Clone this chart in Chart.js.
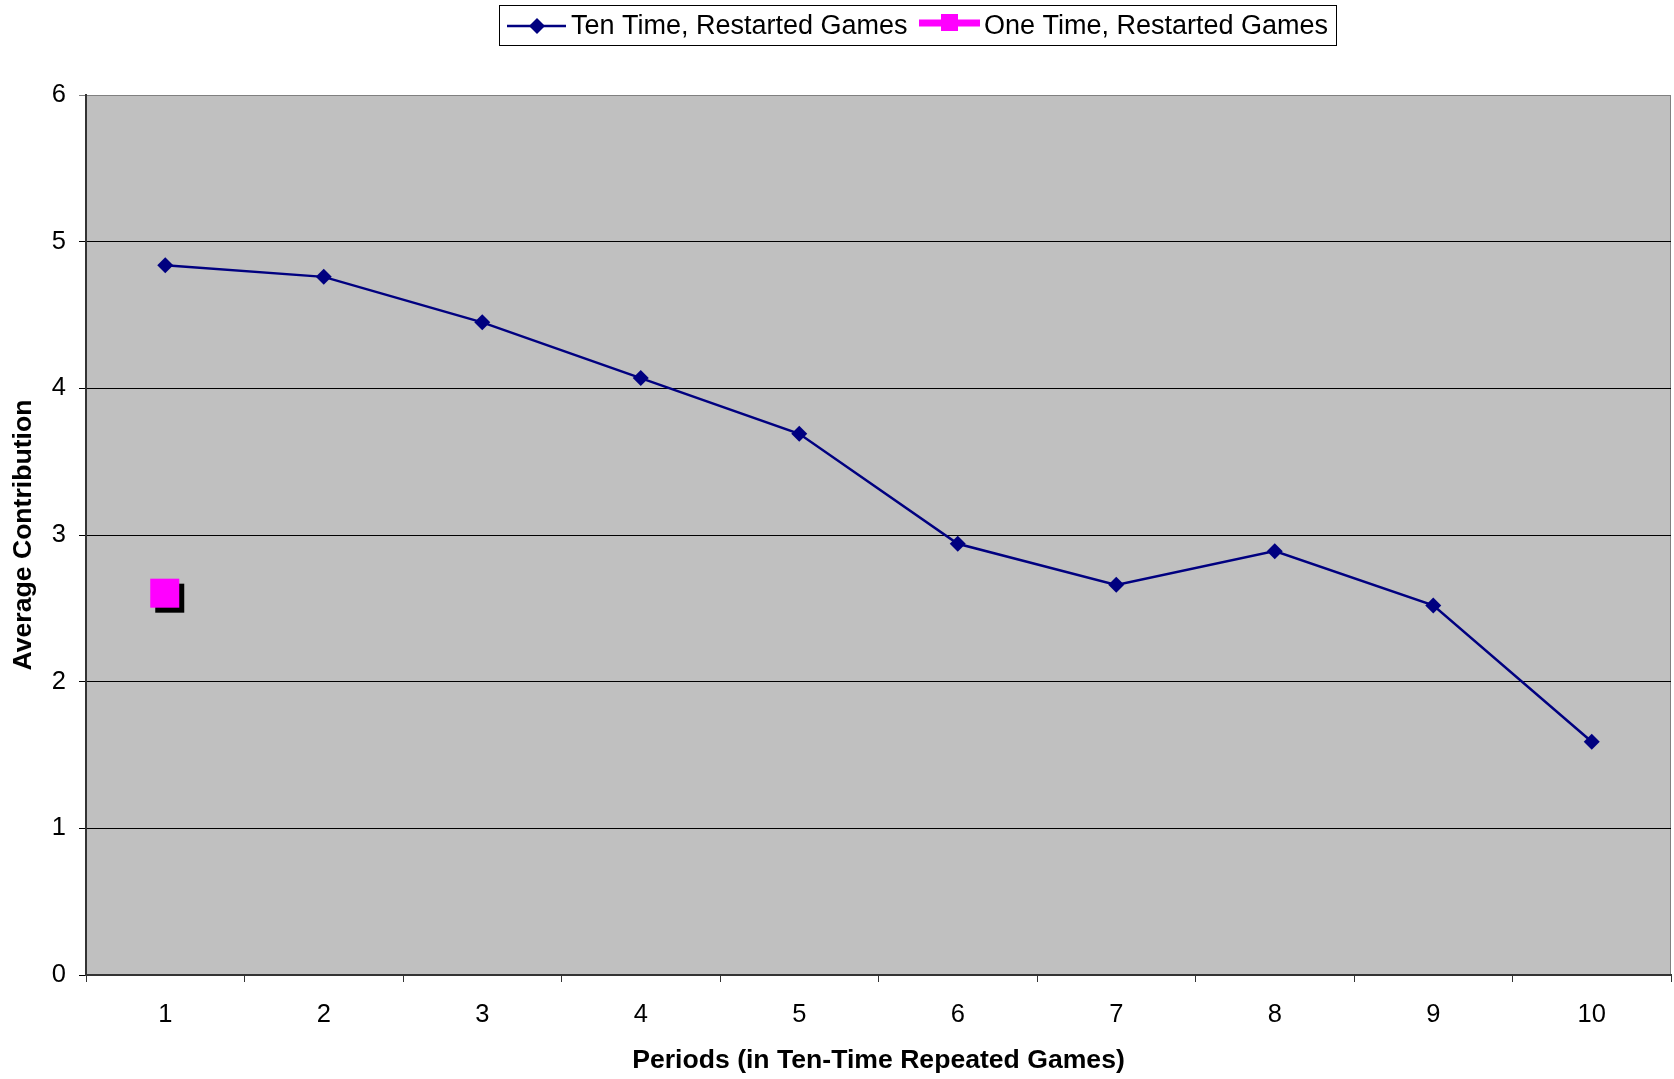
<!DOCTYPE html>
<html>
<head>
<meta charset="utf-8">
<script src="https://cdn.jsdelivr.net/npm/chart.js@4.4.1/dist/chart.umd.min.js"></script>
<style>
  html, body { margin: 0; padding: 0; background: #fff; }
  canvas { display: block; }
</style>
</head>
<body>
<canvas id="contribChart" width="1674" height="1079"></canvas>
<script>
// data
const periods = ['1', '2', '3', '4', '5', '6', '7', '8', '9', '10'];
const tenTimeRestarted = [4.84, 4.76, 4.45, 4.07, 3.69, 2.94, 2.66, 2.89, 2.52, 1.59];
const oneTimeRestarted = [2.60, null, null, null, null, null, null, null, null, null];
const yMin = 0, yMax = 6, yStep = 1;

const NAVY = '#000080';
const MAGENTA = '#FF00FF';
const FONT = '"Liberation Sans", Arial, sans-serif';

Chart.defaults.font.family = FONT;
Chart.defaults.color = '#000';

// square marker with a black drop shadow, like the old Excel one
function shadowSquare() {
    const c = document.createElement('canvas');
    c.width = 40;
    c.height = 40;
    const g = c.getContext('2d');
    g.fillStyle = '#000';
    g.fillRect(10, 10, 29, 29);
    g.fillStyle = MAGENTA;
    g.fillRect(5, 5, 29, 29);
    return c;
}

const plotBackground = {
    id: 'plotBackground',
    beforeDraw(chart) {
        const { ctx, chartArea: a } = chart;
        ctx.save();
        ctx.fillStyle = '#C0C0C0';
        ctx.fillRect(a.left, a.top, a.right - a.left, a.bottom - a.top);
        ctx.strokeStyle = '#808080';
        ctx.lineWidth = 1;
        ctx.beginPath();
        ctx.moveTo(a.right - 0.5, a.top);
        ctx.lineTo(a.right - 0.5, a.bottom);
        ctx.stroke();
        ctx.restore();
    }
};

const boxLegend = {
    id: 'boxLegend',
    afterDraw(chart) {
        const ctx = chart.ctx;
        const ds = chart.data.datasets;
        ctx.save();
        ctx.fillStyle = '#fff';
        ctx.fillRect(499, 5, 837, 40);
        ctx.strokeStyle = '#000';
        ctx.lineWidth = 1;
        ctx.strokeRect(499.5, 5.5, 837, 40);

        // first entry: line with diamond
        ctx.strokeStyle = NAVY;
        ctx.lineWidth = 2.5;
        ctx.beginPath();
        ctx.moveTo(507, 26);
        ctx.lineTo(566, 26);
        ctx.stroke();
        ctx.fillStyle = NAVY;
        ctx.beginPath();
        ctx.moveTo(537, 18);
        ctx.lineTo(545, 26);
        ctx.lineTo(537, 34);
        ctx.lineTo(529, 26);
        ctx.closePath();
        ctx.fill();

        // second entry: thick magenta line with square
        ctx.strokeStyle = MAGENTA;
        ctx.lineWidth = 7;
        ctx.beginPath();
        ctx.moveTo(919, 23);
        ctx.lineTo(980, 23);
        ctx.stroke();
        ctx.fillStyle = MAGENTA;
        ctx.fillRect(941, 14, 17, 17);

        ctx.fillStyle = '#000';
        ctx.font = '27px ' + FONT;
        ctx.textBaseline = 'middle';
        ctx.textAlign = 'left';
        ctx.fillText(ds[0].label, 571, 27);
        ctx.fillText(ds[1].label, 984, 27);
        ctx.restore();
    }
};

const ctx = document.getElementById('contribChart').getContext('2d');
const chart = new Chart(ctx, {
    type: 'line',
    data: {
        labels: periods,
        datasets: [{
            label: 'Ten Time, Restarted Games',
            data: tenTimeRestarted,
            borderColor: NAVY,
            backgroundColor: NAVY,
            borderWidth: 2.5,
            pointStyle: 'rectRot',
            pointRadius: 8,
            pointBorderWidth: 0,
            tension: 0
        }, {
            label: 'One Time, Restarted Games',
            data: oneTimeRestarted,
            showLine: false,
            pointStyle: shadowSquare(),
            pointRadius: 20,
            borderColor: MAGENTA,
            backgroundColor: MAGENTA
        }]
    },
    options: {
        responsive: false,
        animation: false,
        events: [],
        layout: {
            autoPadding: false,
            padding: { top: 95, right: 3, left: 0, bottom: 0 }
        },
        plugins: {
            legend: { display: false },
            tooltip: { enabled: false }
        },
        scales: {
            x: {
                offset: true,
                grid: {
                    offset: true,
                    drawOnChartArea: false,
                    tickLength: 7,
                    color: '#333'
                },
                border: { color: '#333', width: 2 },
                ticks: { font: { size: 25.5 }, padding: 18, maxRotation: 0 },
                title: {
                    display: true,
                    text: 'Periods (in Ten-Time Repeated Games)',
                    font: { size: 26.6, weight: 'bold' },
                    padding: { top: 0, bottom: 2 }
                },
                afterFit(scale) {
                    scale.height = 104;
                    scale.paddingLeft = 0;
                    scale.paddingRight = 0;
                }
            },
            y: {
                min: yMin,
                max: yMax,
                ticks: { stepSize: yStep, font: { size: 25.5 }, padding: 13 },
                grid: {
                    tickLength: 7,
                    color: c => (c.tick && c.tick.value === yMax) ? '#808080' : '#000',
                    lineWidth: 1
                },
                border: { color: '#333', width: 2 },
                title: {
                    display: true,
                    text: 'Average Contribution',
                    font: { size: 26.6, weight: 'bold' },
                    padding: { top: 8, bottom: 0 }
                },
                afterFit(scale) {
                    scale.width = 86;
                    scale.paddingTop = 0;
                    scale.paddingBottom = 0;
                }
            }
        }
    },
    plugins: [plotBackground, boxLegend]
});
</script>
</body>
</html>
